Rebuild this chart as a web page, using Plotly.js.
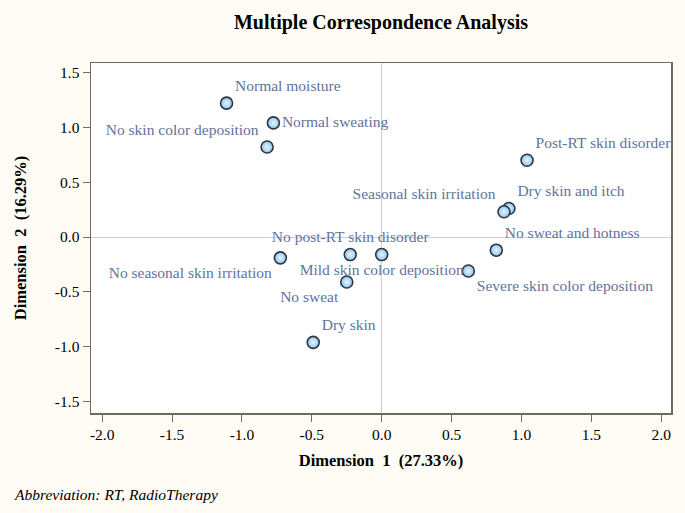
<!DOCTYPE html>
<html>
<head>
<meta charset="utf-8">
<script src="https://cdn.plot.ly/plotly-3.0.1.min.js"></script>
<style>
  html, body { margin: 0; padding: 0; background: #fffcf5; }
  #myDiv { width: 685px; height: 513px; }
</style>
</head>
<body>
<div id="myDiv"></div>
<script>
var categories = [
  'Normal moisture', 'Normal sweating', 'No skin color deposition',
  'Post-RT skin disorder', 'Dry skin and itch', 'Seasonal skin irritation',
  'No sweat and hotness', 'Severe skin color deposition',
  'No post-RT skin disorder', 'Mild skin color deposition',
  'No seasonal skin irritation', 'No sweat', 'Dry skin'
];
var dim1 = [-1.11, -0.775, -0.82, 1.04, 0.91, 0.875, 0.82, 0.62, -0.225, 0.0, -0.725, -0.25, -0.49];
var dim2 = [1.22, 1.04, 0.82, 0.70, 0.26, 0.23, -0.12, -0.31, -0.16, -0.16, -0.19, -0.41, -0.96];

var labelPos = [
  'top right', 'middle right', 'top left',
  'top right', 'top right', 'top left',
  'top right', 'bottom right',
  'top center', 'bottom center',
  'bottom left', 'bottom left', 'top right'
];

var serif = 'Liberation Serif, Times New Roman, serif';

var trace = {
  x: dim1,
  y: dim2,
  text: categories,
  mode: 'markers+text',
  type: 'scatter',
  textposition: labelPos,
  textfont: { family: serif, size: 15.5, color: '#61739c' },
  marker: {
    size: 12,
    color: '#8cc6f0',
    gradient: { type: 'radial', color: '#e8f5ff' },
    line: { color: '#2e3640', width: 1.6 }
  },
  hoverinfo: 'text',
  cliponaxis: false
};

var layout = {
  width: 685,
  height: 513,
  paper_bgcolor: '#fffcf5',
  plot_bgcolor: '#ffffff',
  margin: { l: 91, r: 14, t: 63, b: 100 },
  showlegend: false,
  font: { family: serif, size: 15.5, color: '#000' },
  title: {
    text: '<b>Multiple Correspondence Analysis</b>',
    font: { family: serif, size: 20, color: '#000' },
    x: 0.5, xref: 'paper',
    y: 0.957, yref: 'container', yanchor: 'middle'
  },
  xaxis: {
    range: [-2.08, 2.07],
    tickvals: [-2, -1.5, -1, -0.5, 0, 0.5, 1, 1.5, 2],
    ticktext: ['-2.0', '-1.5', '-1.0', '-0.5', '0.0', '0.5', '1.0', '1.5', '2.0'],
    showgrid: false,
    zeroline: true, zerolinecolor: '#cfcfcf', zerolinewidth: 1,
    showline: true, linecolor: '#6f6a5e', linewidth: 1.5, mirror: true,
    ticks: 'outside', ticklen: 7, tickcolor: '#6f6a5e',
    tickfont: { family: serif, size: 15.5, color: '#000' },
    title: { text: '<b>Dimension\u00a0 1\u00a0 (27.33%)</b>', font: { family: serif, size: 16.5, color: '#000' }, standoff: 12 }
  },
  yaxis: {
    range: [-1.604, 1.586],
    tickvals: [-1.5, -1, -0.5, 0, 0.5, 1, 1.5],
    ticktext: ['-1.5', '-1.0', '-0.5', '0.0', '0.5', '1.0', '1.5'],
    showgrid: false,
    zeroline: true, zerolinecolor: '#cfcfcf', zerolinewidth: 1,
    showline: true, linecolor: '#6f6a5e', linewidth: 1.5, mirror: true,
    ticks: 'outside', ticklen: 7, tickcolor: '#6f6a5e',
    tickfont: { family: serif, size: 15.5, color: '#000' },
    title: { text: '<b>Dimension\u00a0 2\u00a0 (16.29%)</b>', font: { family: serif, size: 16.5, color: '#000' }, standoff: 24 }
  },
  annotations: [{
    text: '<i>Abbreviation: RT, RadioTherapy</i>',
    xref: 'paper', yref: 'paper',
    x: -0.137, y: -0.232,
    xanchor: 'left', yanchor: 'middle',
    showarrow: false,
    font: { family: serif, size: 15.5, color: '#000' }
  }]
};

Plotly.newPlot('myDiv', [trace], layout, { displayModeBar: false, staticPlot: true });
</script>
</body>
</html>
